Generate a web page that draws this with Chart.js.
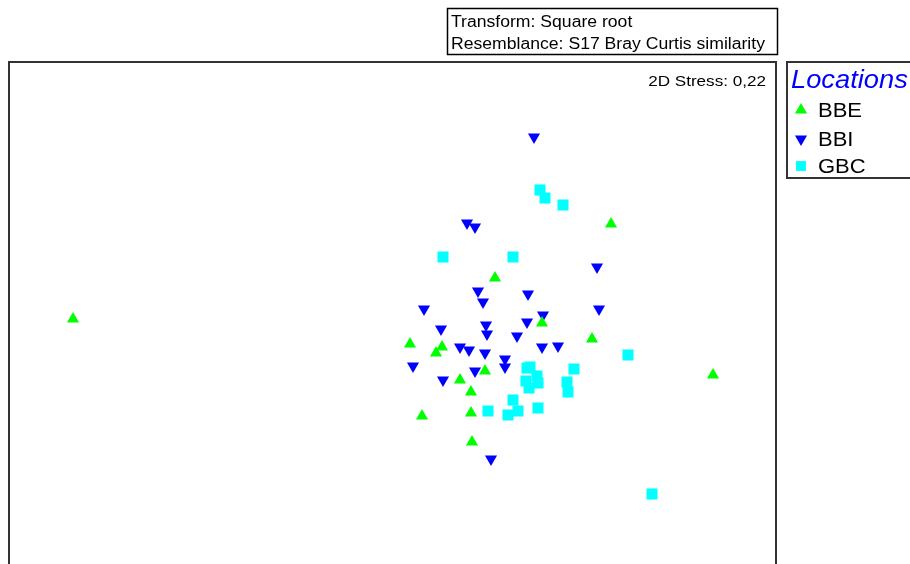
<!DOCTYPE html>
<html>
<head>
<meta charset="utf-8">
<script src="https://cdn.jsdelivr.net/npm/chart.js@4"></script>
<style>
  html, body { margin: 0; padding: 0; background: #fff; overflow: hidden; }
  canvas { display: block; }
</style>
</head>
<body>
<canvas id="mds" width="910" height="700"></canvas>
<script>
// nMDS ordination coordinates
const groups = ['BBE', 'BBI', 'GBC'];

const bbeX = [-0.25, 0.22, 0.72, -1.10, -0.78, -0.84, -0.35, -0.60, -0.49, -0.49, -0.98, -0.48, 0.91, 1.93, -4.47];
const bbeY = [0.92, 0.47, 0.31, 0.26, 0.23, 0.17, -0.01, -0.10, -0.22, -0.43, -0.46, -0.72, 1.46, -0.05, 0.51];

const bbiX = [0.14, -0.53, -0.45, 0.77, -0.42, 0.08, -0.37, -0.96, 0.79, 0.23, 0.07, -0.34, -0.79,
  -0.33, -0.03, 0.22, 0.38, -0.60, -0.51, -0.35, -0.15, -0.15, -1.07, -0.45, -0.77, -0.29];
const bbiY = [2.33, 1.47, 1.43, 1.03, 0.79, 0.76, 0.68, 0.61, 0.61, 0.55, 0.48, 0.45, 0.41,
  0.36, 0.34, 0.23, 0.24, 0.23, 0.20, 0.17, 0.11, 0.03, 0.04, -0.01, -0.10, -0.89];

const gbcX = [-0.77, -0.07, 1.08, 0.20, 0.25, 0.43, 1.32, 0.07, 0.10, 0.17, 0.18, 0.06, 0.09,
  0.54, 0.47, 0.48, -0.07, -0.02, -0.12, 0.18, -0.32];
const gbcY = [1.13, 1.13, 0.15, 1.80, 1.72, 1.65, -1.24, 0.02, 0.03, -0.06, -0.13, -0.11, -0.18,
  0.01, -0.12, -0.22, -0.30, -0.41, -0.45, -0.38, -0.41];

const titleLines = ['Transform: Square root', 'Resemblance: S17 Bray Curtis similarity'];
const stressText = '2D Stress: 0,22';
const legendTitle = 'Locations';

const toPoints = (xs, ys) => xs.map((x, i) => ({x: x, y: ys[i]}));

const green = '#00ff00';
const blue = '#0000ff';
const cyan = '#00ffff';

// the original's font is a bit wider than Liberation Sans, so stretch it
function wideText(ctx, text, x, y, sx) {
  ctx.save();
  ctx.translate(x, y);
  ctx.scale(sx, 1);
  ctx.fillText(text, 0, 0);
  ctx.restore();
}

// frame, header box, stress label and the legend on the right
const decorations = {
  id: 'decorations',
  beforeDatasetsDraw(chart) {
    const ctx = chart.ctx;
    const a = chart.chartArea;
    ctx.save();
    ctx.strokeStyle = '#333';
    ctx.lineWidth = 2;
    ctx.strokeRect(a.left, a.top, a.right - a.left, a.bottom - a.top);

    // header box
    ctx.strokeStyle = '#000';
    ctx.lineWidth = 1.5;
    ctx.strokeRect(447.5, 8.5, 330, 46);
    ctx.fillStyle = '#000';
    ctx.font = '16px "Liberation Sans", Arial, sans-serif';
    wideText(ctx, titleLines[0], 451, 27, 1.1);
    wideText(ctx, titleLines[1], 451, 49, 1.1);

    ctx.font = '15px "Liberation Sans", Arial, sans-serif';
    ctx.textAlign = 'right';
    wideText(ctx, stressText, 766, 86, 1.14);
    ctx.restore();
  },
  afterDraw(chart) {
    const ctx = chart.ctx;
    ctx.save();
    ctx.strokeStyle = '#333';
    ctx.lineWidth = 2;
    ctx.strokeRect(787, 62, 140, 116);
    ctx.fillStyle = blue;
    ctx.font = 'italic 26px "Liberation Sans", Arial, sans-serif';
    wideText(ctx, legendTitle, 791, 88, 1.05);

    const ys = [110, 139, 166];
    const styles = ['triangle', 'triangle', 'rect'];
    const rots = [0, 180, 0];
    const cols = [green, blue, cyan];
    ctx.font = '20px "Liberation Sans", Arial, sans-serif';
    groups.forEach((g, i) => {
      ctx.fillStyle = cols[i];
      Chart.helpers.drawPoint(ctx, {pointStyle: styles[i], rotation: rots[i], radius: 7, borderWidth: 0}, 801, ys[i]);
      ctx.fillStyle = '#000';
      wideText(ctx, g, 818, ys[i] + 7, 1.1);
    });
    ctx.restore();
  }
};

new Chart(document.getElementById('mds'), {
  type: 'scatter',
  data: {
    datasets: [
      {label: groups[0], data: toPoints(bbeX, bbeY), pointStyle: 'triangle', rotation: 0,
        backgroundColor: green, borderWidth: 0, pointRadius: 7},
      {label: groups[1], data: toPoints(bbiX, bbiY), pointStyle: 'triangle', rotation: 180,
        backgroundColor: blue, borderWidth: 0, pointRadius: 7},
      {label: groups[2], data: toPoints(gbcX, gbcY), pointStyle: 'rect',
        backgroundColor: cyan, borderWidth: 0, pointRadius: 7.8}
    ]
  },
  options: {
    responsive: false,
    animation: false,
    layout: {padding: {left: 9, top: 62, right: 134, bottom: 50}},
    scales: {
      x: {type: 'linear', min: -5.11, max: 2.56, display: false},
      y: {type: 'linear', min: -2.80, max: 3.08, display: false}
    },
    plugins: {
      legend: {display: false},
      tooltip: {enabled: false}
    }
  },
  plugins: [decorations]
});
</script>
</body>
</html>
